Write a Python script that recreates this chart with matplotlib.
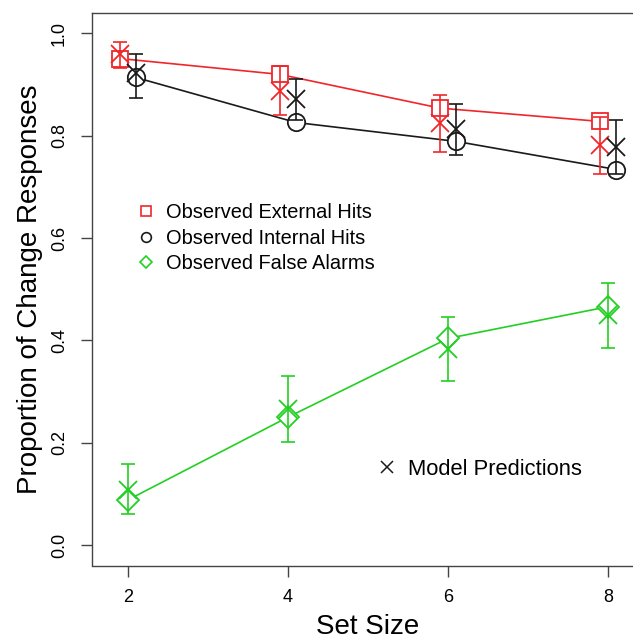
import matplotlib
matplotlib.use("Agg")
import matplotlib.pyplot as plt
from matplotlib.lines import Line2D
import numpy as np

plt.rcParams['font.family'] = ['Liberation Sans', 'DejaVu Sans']

# ---- data ----
set_size = [2, 4, 6, 8]
x_ticks = [2, 4, 6, 8]
y_ticks = [0.0, 0.2, 0.4, 0.6, 0.8, 1.0]

ext_obs = [0.951, 0.920, 0.854, 0.828]
int_obs = [0.914, 0.826, 0.789, 0.734]
fa_obs = [0.088, 0.250, 0.404, 0.466]

ext_pred = [0.960, 0.888, 0.825, 0.782]
ext_lo = [0.933, 0.840, 0.769, 0.726]
ext_hi = [0.984, 0.937, 0.879, 0.836]

int_pred = [0.922, 0.872, 0.813, 0.778]
int_lo = [0.873, 0.830, 0.763, 0.726]
int_hi = [0.960, 0.911, 0.862, 0.830]

fa_pred = [0.108, 0.266, 0.383, 0.449]
fa_lo = [0.061, 0.202, 0.320, 0.385]
fa_hi = [0.158, 0.331, 0.445, 0.512]

labels = ["Observed External Hits", "Observed Internal Hits", "Observed False Alarms"]
pred_label = "Model Predictions"

RED = "#F0262A"
BLACK = "#1a1a1a"
GREEN = "#22CF22"

fig = plt.figure(figsize=(6.33, 6.40), dpi=100)
ax = fig.add_axes([91.7 / 633, 1 - 565.5 / 640, 552.8 / 633, 552.5 / 640])

series = [
    (ext_obs, ext_pred, ext_lo, ext_hi, -0.1, RED, 's', 12),
    (int_obs, int_pred, int_lo, int_hi, 0.1, BLACK, 'o', 12.5),
    (fa_obs, fa_pred, fa_lo, fa_hi, 0.0, GREEN, 'D', 11.5),
]

for obs, pred, lo, hi, off, col, mk, ms in series:
    xs = np.array(set_size, dtype=float) + off
    pred = np.array(pred)
    lo = np.array(lo)
    hi = np.array(hi)
    ax.plot(xs, obs, color=col, lw=1.2, zorder=1)
    ax.plot(xs, obs, linestyle='none', marker=mk, ms=ms, mfc='white',
            mec=col, mew=1.3, zorder=2)
    ax.errorbar(xs, pred, yerr=[pred - lo, hi - pred], fmt='none',
                ecolor=col, elinewidth=1.2, capsize=4.8, capthick=1.2, zorder=3)
    ax.plot(xs, pred, linestyle='none', marker='x', ms=13, mec=col,
            mew=1.3, zorder=4)

ax.set_xlim(1.55, 8.45)
ax.set_ylim(-0.04, 1.04)
ax.set_xticks(x_ticks)
ax.set_xticklabels([str(v) for v in x_ticks])
ax.set_yticks(y_ticks)
ax.set_yticklabels([f"{v:.1f}" for v in y_ticks], rotation=90, va='center')

for sp in ax.spines.values():
    sp.set_color('#444444')
    sp.set_linewidth(1.0)
ax.tick_params(axis='both', direction='out', length=8, width=1.0,
               color='#444444', labelsize=13, pad=9)

ax.set_xlabel("Set Size", fontsize=20)
ax.set_ylabel("Proportion of Change Responses", fontsize=20)
ax.yaxis.set_label_coords(-0.112, 0.5)
ax.xaxis.set_label_coords(0.5, -0.111)
ax.xaxis.label.set_va('center')
ax.yaxis.label.set_va('center')

handles = [
    Line2D([], [], linestyle='none', marker='s', ms=7, mfc='white', mec=RED, mew=1.2),
    Line2D([], [], linestyle='none', marker='o', ms=7, mfc='white', mec=BLACK, mew=1.2),
    Line2D([], [], linestyle='none', marker='D', ms=6.5, mfc='white', mec=GREEN, mew=1.2),
]
leg1 = ax.legend(handles, labels, loc='upper left',
                 bbox_to_anchor=((137 - 91.7) / 552.8, (565.5 - 203) / 552.5),
                 frameon=False, fontsize=14.4, handlelength=0.9,
                 handletextpad=0.55, labelspacing=0.33, borderpad=0, borderaxespad=0)
ax.add_artist(leg1)

h2 = [Line2D([], [], linestyle='none', marker='x', ms=8, mec=BLACK, mew=1.1)]
ax.legend(h2, [pred_label], loc='upper left',
          bbox_to_anchor=((377 - 91.7) / 552.8, (565.5 - 459) / 552.5),
          frameon=False, fontsize=15.8, handlelength=0.9,
          handletextpad=0.5, borderpad=0, borderaxespad=0)

fig.savefig("out.png", dpi=100)
